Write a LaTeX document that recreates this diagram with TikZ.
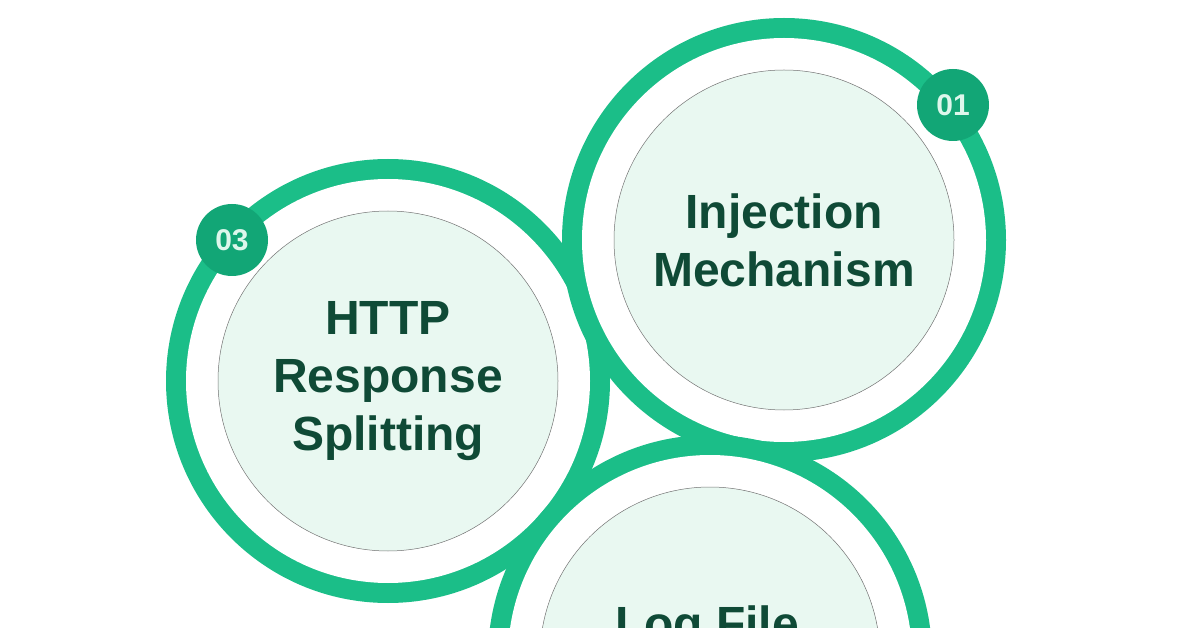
\documentclass[tikz,border=0pt]{standalone}
\usepackage{fontspec}
\setmainfont{Liberation Sans}
\begin{document}
\begin{tikzpicture}[x=1pt,y=-1pt]
\definecolor{ring}{HTML}{1BBE88}
\definecolor{ringd}{HTML}{12A676}
\definecolor{inner}{HTML}{E9F8F1}
\definecolor{txt}{HTML}{0F4A36}
\definecolor{badgetxt}{HTML}{DDF7EC}
\tikzset{
 outerring/.style={circle,inner sep=0,minimum size=444pt,draw=none,fill=ring},
 whitering/.style={circle,inner sep=0,minimum size=404pt,fill=white},
 core/.style={circle,inner sep=0,minimum size=340pt,fill=inner,draw=black!55,line width=0.5pt,
   text=txt,font=\fontsize{48}{58}\selectfont\bfseries,align=center},
 badge/.style={circle,inner sep=0,minimum size=72pt,fill=ringd,text=badgetxt,font=\fontsize{30}{30}\selectfont\bfseries}
}
\clip (0,0) rectangle (1200,628);
\fill[white] (0,0) rectangle (1200,628);
% circle 3
\node[outerring] (o3) at (388,381) {};
\node[whitering] (w3) at (388,381) {};
\node[core] (c3) at (388,381) {HTTP\\Response\\Splitting};
\node[badge] (b3) at (232,240) {03};
% circle 1
\node[outerring] (o1) at (784,240) {};
\node[whitering] (w1) at (784,240) {};
\node[core] (c1) at (784,240) {Injection\\Mechanism};
\node[badge] (b1) at (953,105) {01};
% circle 2
\node[outerring] (o2) at (710,657) {};
\node[whitering] (w2) at (710,657) {};
\node[core] (c2) at (710,657) {};
\node[text=txt,font=\fontsize{48}{58}\selectfont\bfseries,anchor=base] (t2) at (707,640) {Log File};
\end{tikzpicture}
\end{document}
